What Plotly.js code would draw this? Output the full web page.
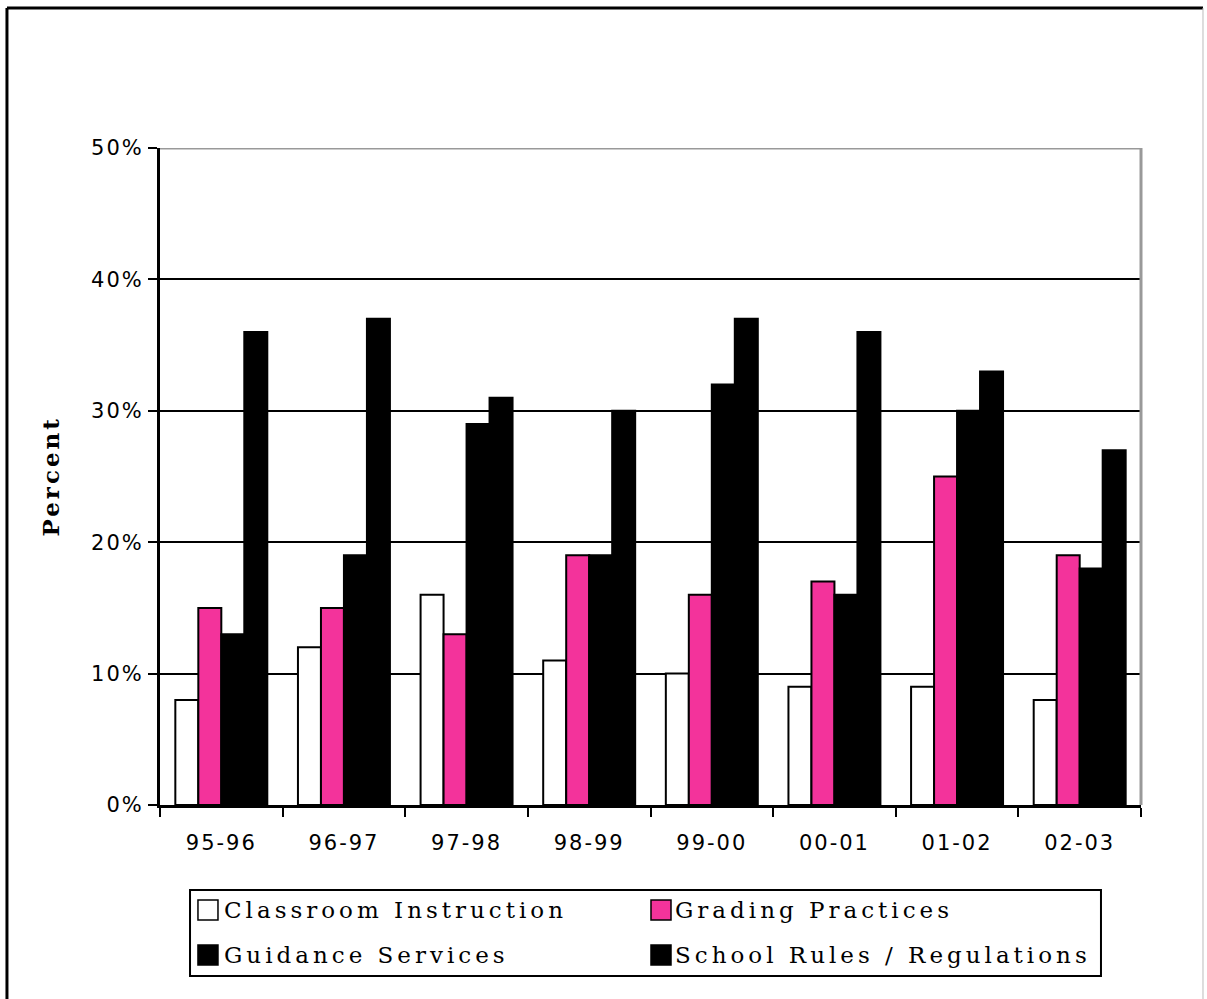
<!DOCTYPE html>
<html>
<head>
<meta charset="utf-8">
<script src="https://cdn.plot.ly/plotly-3.0.1.min.js"></script>
<style>
  html, body { margin: 0; padding: 0; background: #fff; }
  #chart { width: 1207px; height: 999px; }
  .xtick text, .ytick text { letter-spacing: 2px; }
</style>
</head>
<body>
<div id="chart"></div>
<script>
// School years on the category axis
const years = ['95-96', '96-97', '97-98', '98-99', '99-00', '00-01', '01-02', '02-03'];

// Share of complaints per area, in percent
const classroomInstruction = [8, 12, 16, 11, 10, 9, 9, 8];
const gradingPractices     = [15, 15, 13, 19, 16, 17, 25, 19];
const guidanceServices     = [13, 19, 29, 19, 32, 16, 30, 18];
const schoolRules          = [36, 37, 31, 30, 37, 36, 33, 27];

const seriesNames = ['Classroom Instruction', 'Grading Practices', 'Guidance Services', 'School Rules / Regulations'];
const seriesColors = ['#ffffff', '#f3339b', '#000000', '#000000'];
const yTicks = [0, 10, 20, 30, 40, 50];
const yTickText = yTicks.map(v => v + '%');

const seriesValues = [classroomInstruction, gradingPractices, guidanceServices, schoolRules];

const traces = seriesValues.map((vals, i) => ({
  type: 'bar',
  name: seriesNames[i],
  x: years,
  y: vals,
  marker: { color: seriesColors[i], line: { color: '#000', width: 2 } },
  hovertemplate: '%{x}: %{y}%<extra>' + seriesNames[i] + '</extra>'
}));

const tickFont = { family: 'DejaVu Sans, Verdana, sans-serif', size: 21, color: '#000' };
const serif = 'DejaVu Serif, Liberation Serif, serif';

// Key below the plot: two columns, two rows (paper coordinates)
const keyCols = [{ sq0: 0.0387, sq1: 0.0591, tx: 0.0632 }, { sq0: 0.5005, sq1: 0.5209, tx: 0.5234 }];
const keyRows = [{ top: -0.1446, bottom: -0.1750, mid: -0.1598 }, { top: -0.2131, bottom: -0.2435, mid: -0.2283 }];
// entries ordered left-to-right, top-to-bottom
const keySlots = [[0, 0], [1, 0], [0, 1], [1, 1]];

const keyShapes = seriesNames.map((name, i) => {
  const c = keyCols[keySlots[i][0]], r = keyRows[keySlots[i][1]];
  return { type: 'rect', xref: 'paper', yref: 'paper', x0: c.sq0, x1: c.sq1, y0: r.bottom, y1: r.top,
           fillcolor: seriesColors[i], line: { color: '#000', width: 1.5 } };
});
const keyLabels = seriesNames.map((name, i) => {
  const c = keyCols[keySlots[i][0]], r = keyRows[keySlots[i][1]];
  return { text: '<span style="letter-spacing:4px">' + name + '</span>',
           xref: 'paper', yref: 'paper', x: c.tx, y: r.mid, xanchor: 'left', yanchor: 'middle',
           showarrow: false, font: { family: serif, size: 23, color: '#000' } };
});

const layout = {
  width: 1207,
  height: 999,
  margin: { l: 160, r: 66, t: 148, b: 194 },
  paper_bgcolor: '#fff',
  plot_bgcolor: '#fff',
  barmode: 'group',
  bargap: 0.25,
  bargroupgap: 0,
  showlegend: false,
  xaxis: {
    type: 'category',
    tickson: 'boundaries',
    ticks: 'outside',
    ticklen: 9,
    tickwidth: 2,
    tickcolor: '#000',
    showline: true,
    linecolor: '#000',
    linewidth: 3,
    showgrid: false,
    tickfont: tickFont,
    ticklabelstandoff: 17,
    fixedrange: true
  },
  yaxis: {
    range: [0, 50],
    tickvals: yTicks,
    ticktext: yTickText,
    ticks: 'outside',
    ticklen: 9,
    tickwidth: 2,
    tickcolor: '#000',
    showline: true,
    linecolor: '#000',
    linewidth: 3,
    showgrid: true,
    gridcolor: '#000',
    gridwidth: 2,
    zeroline: false,
    tickfont: tickFont,
    ticklabelstandoff: 0,
    fixedrange: true
  },
  annotations: [{
    text: '<span style="letter-spacing:3px"><b>Percent</b></span>',
    xref: 'paper', yref: 'paper',
    x: -0.1121, y: 0.5,
    xanchor: 'center', yanchor: 'middle',
    textangle: -90,
    showarrow: false,
    font: { family: serif, size: 23, color: '#000' }
  }].concat(keyLabels),
  shapes: [
    // top gridline and right edge of the plot frame, in grey
    { type: 'line', xref: 'paper', yref: 'y', x0: 0, x1: 1, y0: 50, y1: 50,
      line: { color: '#999', width: 3 }, layer: 'above' },
    { type: 'line', xref: 'paper', yref: 'paper', x0: 1, x1: 1, y0: 0, y1: 1,
      line: { color: '#999', width: 3 }, layer: 'above' },
    // key frame
    { type: 'rect', xref: 'paper', yref: 'paper', x0: 0.0306, x1: 0.9592, y0: -0.2603, y1: -0.1294,
      line: { color: '#000', width: 2 }, fillcolor: 'rgba(0,0,0,0)' },
    // outer chart frame
    { type: 'line', xref: 'paper', yref: 'paper', x0: -0.156, x1: 1.0632, y0: 1.2131, y1: 1.2131,
      line: { color: '#000', width: 3 } },
    { type: 'line', xref: 'paper', yref: 'paper', x0: -0.156, x1: -0.156, y0: 1.2131, y1: -0.2953,
      line: { color: '#000', width: 3 } },
    { type: 'line', xref: 'paper', yref: 'paper', x0: 1.0632, x1: 1.0632, y0: 1.2131, y1: -0.2953,
      line: { color: '#bbb', width: 1 } }
  ].concat(keyShapes)
};

Plotly.newPlot('chart', traces, layout, { displayModeBar: false, staticPlot: true });
</script>
</body>
</html>
